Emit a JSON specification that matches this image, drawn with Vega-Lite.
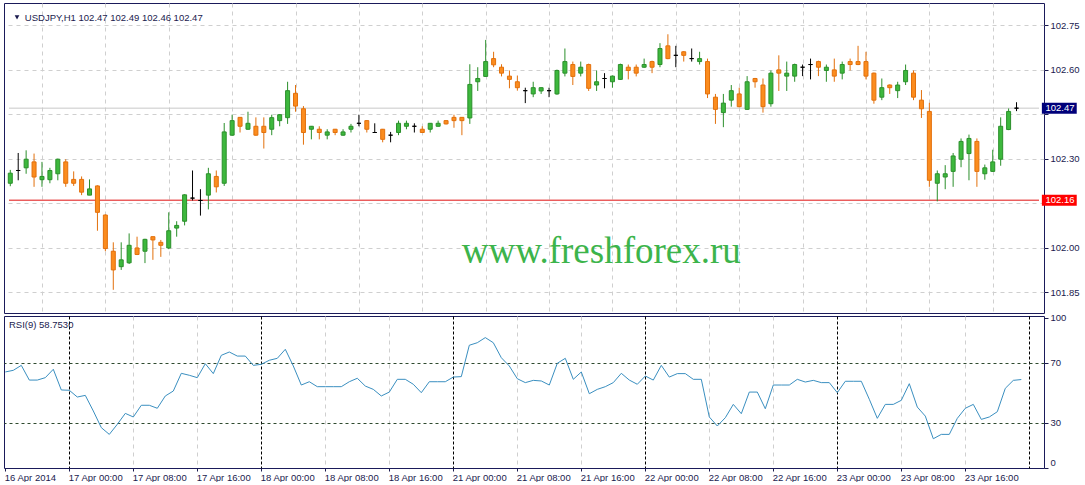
{
  "$schema": "https://vega.github.io/schema/vega-lite/v6.json",
  "background": "white",
  "padding": {"left": 2, "top": 2, "right": 0, "bottom": 0},
  "autosize": {"type": "pad"},
  "spacing": 3,
  "bounds": "flush",
  "config": {
    "view": {"stroke": "#1a1a5a", "strokeWidth": 1},
    "font": "Liberation Sans",
    "axis": {"labelFont": "Liberation Sans", "labelFontSize": 9.5, "labelColor": "#1a1a4e", "domain": false, "tickColor": "#1a1a4e"}
  },
  "datasets": {
    "bars": [
      {"i":0,"o":102.217,"h":102.262,"l":102.207,"c":102.251,"rsi":63.8},
      {"i":1,"o":102.260,"h":102.319,"l":102.227,"c":102.260,"rsi":64.9},
      {"i":2,"o":102.269,"h":102.328,"l":102.249,"c":102.298,"rsi":68.2},
      {"i":3,"o":102.289,"h":102.317,"l":102.205,"c":102.238,"rsi":58.4},
      {"i":4,"o":102.229,"h":102.289,"l":102.205,"c":102.240,"rsi":58.4},
      {"i":5,"o":102.229,"h":102.269,"l":102.217,"c":102.260,"rsi":60.0},
      {"i":6,"o":102.249,"h":102.300,"l":102.227,"c":102.298,"rsi":65.6},
      {"i":7,"o":102.289,"h":102.298,"l":102.205,"c":102.217,"rsi":51.8},
      {"i":8,"o":102.230,"h":102.257,"l":102.208,"c":102.217,"rsi":51.6},
      {"i":9,"o":102.230,"h":102.240,"l":102.177,"c":102.187,"rsi":47.1},
      {"i":10,"o":102.177,"h":102.230,"l":102.177,"c":102.198,"rsi":48.2},
      {"i":11,"o":102.208,"h":102.210,"l":102.057,"c":102.119,"rsi":37.8},
      {"i":12,"o":102.110,"h":102.112,"l":101.988,"c":101.997,"rsi":26.7},
      {"i":13,"o":101.988,"h":102.018,"l":101.858,"c":101.925,"rsi":22.2},
      {"i":14,"o":101.936,"h":102.018,"l":101.925,"c":101.959,"rsi":28.9},
      {"i":15,"o":101.949,"h":102.048,"l":101.945,"c":102.008,"rsi":36.2},
      {"i":16,"o":101.999,"h":102.037,"l":101.975,"c":101.977,"rsi":33.8},
      {"i":17,"o":101.988,"h":102.030,"l":101.948,"c":102.028,"rsi":41.6},
      {"i":18,"o":102.037,"h":102.037,"l":101.959,"c":102.026,"rsi":41.6},
      {"i":19,"o":102.018,"h":102.026,"l":101.969,"c":102.008,"rsi":39.6},
      {"i":20,"o":101.999,"h":102.119,"l":101.995,"c":102.057,"rsi":47.8},
      {"i":21,"o":102.066,"h":102.089,"l":102.037,"c":102.075,"rsi":51.1},
      {"i":22,"o":102.089,"h":102.180,"l":102.075,"c":102.178,"rsi":62.9},
      {"i":23,"o":102.167,"h":102.260,"l":102.159,"c":102.167,"rsi":61.6},
      {"i":24,"o":102.159,"h":102.197,"l":102.108,"c":102.159,"rsi":60.0},
      {"i":25,"o":102.177,"h":102.269,"l":102.129,"c":102.249,"rsi":69.3},
      {"i":26,"o":102.240,"h":102.260,"l":102.186,"c":102.205,"rsi":62.7},
      {"i":27,"o":102.217,"h":102.420,"l":102.208,"c":102.390,"rsi":74.9},
      {"i":28,"o":102.379,"h":102.448,"l":102.377,"c":102.428,"rsi":77.1},
      {"i":29,"o":102.439,"h":102.440,"l":102.388,"c":102.409,"rsi":74.4},
      {"i":30,"o":102.399,"h":102.458,"l":102.397,"c":102.419,"rsi":74.4},
      {"i":31,"o":102.409,"h":102.439,"l":102.377,"c":102.379,"rsi":68.2},
      {"i":32,"o":102.409,"h":102.439,"l":102.334,"c":102.388,"rsi":68.9},
      {"i":33,"o":102.399,"h":102.448,"l":102.379,"c":102.438,"rsi":71.6},
      {"i":34,"o":102.428,"h":102.450,"l":102.409,"c":102.448,"rsi":72.9},
      {"i":35,"o":102.438,"h":102.559,"l":102.417,"c":102.529,"rsi":78.9},
      {"i":36,"o":102.520,"h":102.548,"l":102.458,"c":102.477,"rsi":67.8},
      {"i":37,"o":102.468,"h":102.477,"l":102.347,"c":102.388,"rsi":55.1},
      {"i":38,"o":102.399,"h":102.410,"l":102.365,"c":102.409,"rsi":57.3},
      {"i":39,"o":102.399,"h":102.409,"l":102.365,"c":102.388,"rsi":54.0},
      {"i":40,"o":102.379,"h":102.399,"l":102.365,"c":102.390,"rsi":54.0},
      {"i":41,"o":102.399,"h":102.400,"l":102.379,"c":102.388,"rsi":54.0},
      {"i":42,"o":102.379,"h":102.399,"l":102.377,"c":102.390,"rsi":54.0},
      {"i":43,"o":102.399,"h":102.417,"l":102.388,"c":102.409,"rsi":57.3},
      {"i":44,"o":102.419,"h":102.448,"l":102.409,"c":102.419,"rsi":59.6},
      {"i":45,"o":102.428,"h":102.430,"l":102.388,"c":102.399,"rsi":54.4},
      {"i":46,"o":102.388,"h":102.419,"l":102.388,"c":102.388,"rsi":52.2},
      {"i":47,"o":102.399,"h":102.400,"l":102.355,"c":102.365,"rsi":47.8},
      {"i":48,"o":102.379,"h":102.390,"l":102.355,"c":102.379,"rsi":50.4},
      {"i":49,"o":102.388,"h":102.428,"l":102.379,"c":102.419,"rsi":58.9},
      {"i":50,"o":102.409,"h":102.428,"l":102.399,"c":102.419,"rsi":58.9},
      {"i":51,"o":102.409,"h":102.419,"l":102.388,"c":102.409,"rsi":55.6},
      {"i":52,"o":102.399,"h":102.409,"l":102.388,"c":102.388,"rsi":50.0},
      {"i":53,"o":102.399,"h":102.420,"l":102.388,"c":102.419,"rsi":57.3},
      {"i":54,"o":102.409,"h":102.428,"l":102.408,"c":102.419,"rsi":57.3},
      {"i":55,"o":102.428,"h":102.430,"l":102.415,"c":102.417,"rsi":57.3},
      {"i":56,"o":102.439,"h":102.448,"l":102.404,"c":102.428,"rsi":60.4},
      {"i":57,"o":102.439,"h":102.440,"l":102.379,"c":102.428,"rsi":60.7},
      {"i":58,"o":102.437,"h":102.618,"l":102.417,"c":102.550,"rsi":81.6},
      {"i":59,"o":102.559,"h":102.608,"l":102.528,"c":102.570,"rsi":83.3},
      {"i":60,"o":102.577,"h":102.700,"l":102.575,"c":102.627,"rsi":86.7},
      {"i":61,"o":102.637,"h":102.660,"l":102.608,"c":102.616,"rsi":83.3},
      {"i":62,"o":102.608,"h":102.618,"l":102.577,"c":102.588,"rsi":73.3},
      {"i":63,"o":102.578,"h":102.597,"l":102.537,"c":102.567,"rsi":67.8},
      {"i":64,"o":102.559,"h":102.580,"l":102.529,"c":102.539,"rsi":59.3},
      {"i":65,"o":102.529,"h":102.539,"l":102.487,"c":102.529,"rsi":56.7},
      {"i":66,"o":102.518,"h":102.559,"l":102.507,"c":102.539,"rsi":58.2},
      {"i":67,"o":102.528,"h":102.540,"l":102.518,"c":102.539,"rsi":57.8},
      {"i":68,"o":102.529,"h":102.539,"l":102.507,"c":102.529,"rsi":55.1},
      {"i":69,"o":102.518,"h":102.600,"l":102.515,"c":102.597,"rsi":69.6},
      {"i":70,"o":102.588,"h":102.671,"l":102.577,"c":102.627,"rsi":72.9},
      {"i":71,"o":102.617,"h":102.627,"l":102.548,"c":102.577,"rsi":58.9},
      {"i":72,"o":102.588,"h":102.627,"l":102.577,"c":102.608,"rsi":63.8},
      {"i":73,"o":102.617,"h":102.620,"l":102.528,"c":102.537,"rsi":49.3},
      {"i":74,"o":102.548,"h":102.597,"l":102.528,"c":102.559,"rsi":52.2},
      {"i":75,"o":102.570,"h":102.588,"l":102.537,"c":102.570,"rsi":54.0},
      {"i":76,"o":102.559,"h":102.580,"l":102.539,"c":102.578,"rsi":56.7},
      {"i":77,"o":102.567,"h":102.620,"l":102.565,"c":102.617,"rsi":62.9},
      {"i":78,"o":102.608,"h":102.617,"l":102.567,"c":102.597,"rsi":58.4},
      {"i":79,"o":102.608,"h":102.617,"l":102.577,"c":102.588,"rsi":55.6},
      {"i":80,"o":102.608,"h":102.637,"l":102.606,"c":102.617,"rsi":61.1},
      {"i":81,"o":102.627,"h":102.630,"l":102.588,"c":102.608,"rsi":58.4},
      {"i":82,"o":102.617,"h":102.689,"l":102.608,"c":102.671,"rsi":68.2},
      {"i":83,"o":102.680,"h":102.719,"l":102.635,"c":102.637,"rsi":60.4},
      {"i":84,"o":102.648,"h":102.680,"l":102.608,"c":102.648,"rsi":62.7},
      {"i":85,"o":102.660,"h":102.662,"l":102.627,"c":102.648,"rsi":62.7},
      {"i":86,"o":102.637,"h":102.671,"l":102.627,"c":102.637,"rsi":58.9},
      {"i":87,"o":102.627,"h":102.660,"l":102.617,"c":102.637,"rsi":58.9},
      {"i":88,"o":102.627,"h":102.637,"l":102.504,"c":102.518,"rsi":33.8},
      {"i":89,"o":102.507,"h":102.518,"l":102.417,"c":102.466,"rsi":27.8},
      {"i":90,"o":102.455,"h":102.518,"l":102.406,"c":102.487,"rsi":33.3},
      {"i":91,"o":102.497,"h":102.548,"l":102.475,"c":102.529,"rsi":42.2},
      {"i":92,"o":102.518,"h":102.539,"l":102.473,"c":102.475,"rsi":36.0},
      {"i":93,"o":102.466,"h":102.578,"l":102.464,"c":102.559,"rsi":50.4},
      {"i":94,"o":102.570,"h":102.572,"l":102.539,"c":102.559,"rsi":50.4},
      {"i":95,"o":102.548,"h":102.570,"l":102.455,"c":102.475,"rsi":39.3},
      {"i":96,"o":102.485,"h":102.597,"l":102.475,"c":102.588,"rsi":55.1},
      {"i":97,"o":102.599,"h":102.648,"l":102.528,"c":102.588,"rsi":55.1},
      {"i":98,"o":102.578,"h":102.627,"l":102.528,"c":102.588,"rsi":55.1},
      {"i":99,"o":102.578,"h":102.620,"l":102.559,"c":102.617,"rsi":58.9},
      {"i":100,"o":102.608,"h":102.617,"l":102.578,"c":102.608,"rsi":57.1},
      {"i":101,"o":102.617,"h":102.637,"l":102.567,"c":102.617,"rsi":58.2},
      {"i":102,"o":102.627,"h":102.630,"l":102.578,"c":102.608,"rsi":56.7},
      {"i":103,"o":102.597,"h":102.617,"l":102.559,"c":102.608,"rsi":56.7},
      {"i":104,"o":102.599,"h":102.637,"l":102.559,"c":102.578,"rsi":50.0},
      {"i":105,"o":102.588,"h":102.627,"l":102.567,"c":102.617,"rsi":57.6},
      {"i":106,"o":102.627,"h":102.637,"l":102.597,"c":102.617,"rsi":57.6},
      {"i":107,"o":102.627,"h":102.680,"l":102.615,"c":102.617,"rsi":57.6},
      {"i":108,"o":102.627,"h":102.660,"l":102.567,"c":102.578,"rsi":45.6},
      {"i":109,"o":102.588,"h":102.590,"l":102.485,"c":102.497,"rsi":32.9},
      {"i":110,"o":102.507,"h":102.570,"l":102.497,"c":102.539,"rsi":42.2},
      {"i":111,"o":102.548,"h":102.550,"l":102.518,"c":102.539,"rsi":42.2},
      {"i":112,"o":102.529,"h":102.559,"l":102.504,"c":102.548,"rsi":44.9},
      {"i":113,"o":102.559,"h":102.617,"l":102.548,"c":102.597,"rsi":56.0},
      {"i":114,"o":102.588,"h":102.597,"l":102.497,"c":102.507,"rsi":40.4},
      {"i":115,"o":102.497,"h":102.531,"l":102.437,"c":102.468,"rsi":34.4},
      {"i":116,"o":102.459,"h":102.488,"l":102.205,"c":102.227,"rsi":19.3},
      {"i":117,"o":102.217,"h":102.260,"l":102.156,"c":102.249,"rsi":22.2},
      {"i":118,"o":102.238,"h":102.278,"l":102.197,"c":102.249,"rsi":22.2},
      {"i":119,"o":102.257,"h":102.319,"l":102.205,"c":102.309,"rsi":32.9},
      {"i":120,"o":102.298,"h":102.368,"l":102.271,"c":102.358,"rsi":39.6},
      {"i":121,"o":102.317,"h":102.381,"l":102.227,"c":102.368,"rsi":42.2},
      {"i":122,"o":102.358,"h":102.368,"l":102.205,"c":102.257,"rsi":32.2},
      {"i":123,"o":102.249,"h":102.280,"l":102.229,"c":102.269,"rsi":33.8},
      {"i":124,"o":102.257,"h":102.330,"l":102.255,"c":102.289,"rsi":37.3},
      {"i":125,"o":102.298,"h":102.439,"l":102.276,"c":102.409,"rsi":52.9},
      {"i":126,"o":102.398,"h":102.469,"l":102.396,"c":102.459,"rsi":58.2},
      {"i":127,"o":102.47,"h":102.49,"l":102.46,"c":102.47,"rsi":58.753}
    ],
    "levels": [
      {"price": 102.47, "kind": "bid", "label": "102.47"},
      {"price": 102.16, "kind": "line", "label": "102.16"}
    ]
  },
  "vconcat": [
    {
      "width": 1040,
      "height": 310,
      "layer": [
        {
          "data": {"name": "levels"},
          "mark": {"type": "rule", "strokeWidth": 1},
          "encoding": {
            "x": {"datum": -0.1625, "type": "quantitative", "scale": {"domain": [-0.1625, 129.8375], "nice": false, "zero": false},
              "axis": {"title": null, "values": [4,8,12,16,20,24,28,32,36,40,44,48,52,56,60,64,68,72,76,80,84,88,92,96,100,104,108,112,116,120,124,128],
                "labels": false, "ticks": false, "grid": true, "gridWidth": 1,
                "gridColor": {"condition": {"test": "datum.value % 24 === 8", "value": "#000000"}, "value": "#cfcfcf"},
                "gridDash": {"condition": {"test": "datum.value % 24 === 8", "value": [3, 2]}, "value": [4, 4]}}},
            "x2": {"datum": 129.8375},
            "y": {"field": "price", "type": "quantitative", "scale": {"domain": [101.7967, 102.8075], "nice": false, "zero": false},
              "axis": {"title": null, "orient": "right", "values": [101.85, 102.0, 102.15, 102.3, 102.45, 102.6, 102.75],
                "labelExpr": "abs(datum.value - 102.15) < 0.001 || abs(datum.value - 102.45) < 0.001 ? '' : format(datum.value, '.2f')",
                "grid": true, "gridColor": "#cfcfcf", "gridDash": [4, 4], "tickSize": 4, "labelPadding": 2}},
            "color": {"condition": {"test": "datum.kind === 'bid'", "value": "#c8c8c8"}, "value": "#e01010"}
          }
        },
        {
          "data": {"name": "bars"},
          "mark": {"type": "rule", "strokeWidth": 1, "clip": true},
          "encoding": {
            "x": {"field": "i", "type": "quantitative", "title": null},
            "y": {"field": "l", "type": "quantitative", "title": null},
            "y2": {"field": "h"},
            "color": {"condition": [{"test": "datum.c > datum.o", "value": "#2b8f2b"}, {"test": "datum.c < datum.o", "value": "#e2700c"}], "value": "#000000"}
          }
        },
        {
          "data": {"name": "bars"},
          "mark": {"type": "bar", "size": 4, "strokeWidth": 1, "clip": true},
          "encoding": {
            "x": {"field": "i", "type": "quantitative", "title": null},
            "y": {"field": "o", "type": "quantitative", "title": null},
            "y2": {"field": "c"},
            "fill": {"condition": [{"test": "datum.c > datum.o", "value": "#3db83d"}, {"test": "datum.c < datum.o", "value": "#fb8c1e"}], "value": "#000000"},
            "stroke": {"condition": [{"test": "datum.c > datum.o", "value": "#2b8f2b"}, {"test": "datum.c < datum.o", "value": "#e2700c"}], "value": "#000000"}
          }
        },
        {
          "data": {"name": "levels"},
          "mark": {"type": "bar", "orient": "horizontal", "size": 11},
          "encoding": {
            "x": {"datum": 130.2, "type": "quantitative"},
            "x2": {"datum": 134.6},
            "y": {"field": "price", "type": "quantitative", "title": null},
            "color": {"condition": {"test": "datum.kind === 'bid'", "value": "#00007a"}, "value": "#ff0000"}
          }
        },
        {
          "data": {"name": "levels"},
          "mark": {"type": "text", "align": "left", "baseline": "middle", "fontSize": 9.5, "font": "Liberation Sans", "color": "#ffffff"},
          "encoding": {
            "x": {"datum": 130.65, "type": "quantitative"},
            "y": {"field": "price", "type": "quantitative", "title": null},
            "text": {"field": "label"}
          }
        },
        {
          "data": {"values": [{"t": "USDJPY,H1  102.47 102.49 102.46 102.47"}]},
          "mark": {"type": "text", "align": "left", "baseline": "middle", "fontSize": 9.5, "font": "Liberation Sans", "color": "#1a1a4e"},
          "encoding": {
            "x": {"datum": 1.8375, "type": "quantitative"},
            "y": {"datum": 102.775, "type": "quantitative"},
            "text": {"field": "t"}
          }
        },
        {
          "data": {"values": [{"t": "marker"}]},
          "mark": {"type": "point", "shape": "triangle-down", "filled": true, "size": 22, "color": "#1a1a4e", "opacity": 1},
          "encoding": {
            "x": {"datum": 0.85, "type": "quantitative"},
            "y": {"datum": 102.776, "type": "quantitative"}
          }
        },
        {
          "data": {"values": [{"t": "www.freshforex.ru"}]},
          "mark": {"type": "text", "align": "center", "baseline": "alphabetic", "fontSize": 37, "font": "Liberation Serif", "color": "#3cb44b"},
          "encoding": {
            "x": {"datum": 74.59, "type": "quantitative"},
            "y": {"datum": 101.947, "type": "quantitative"},
            "text": {"field": "t"}
          }
        }
      ]
    },
    {
      "width": 1040,
      "height": 152,
      "layer": [
        {
          "data": {"name": "bars"},
          "mark": {"type": "line", "color": "#3a8fc0", "strokeWidth": 1},
          "encoding": {
            "x": {"field": "i", "type": "quantitative", "scale": {"domain": [-0.1625, 129.8375], "nice": false, "zero": false},
              "axis": {"title": null, "values": [0,4,8,12,16,20,24,28,32,36,40,44,48,52,56,60,64,68,72,76,80,84,88,92,96,100,104,108,112,116,120,124,128],
                "grid": true, "gridWidth": 1,
                "gridColor": {"condition": {"test": "datum.value % 24 === 8", "value": "#000000"}, "value": "#cfcfcf"},
                "gridDash": {"condition": {"test": "datum.value % 24 === 8", "value": [3, 2]}, "value": [4, 4]},
                "gridOpacity": {"condition": {"test": "datum.value === 0", "value": 0}, "value": 1},
                "tickSize": 3,
                "tickOpacity": {"condition": {"test": "datum.value % 8 === 0 && datum.value <= 120", "value": 1}, "value": 0},
                "labelAlign": "left", "labelOffset": -1, "labelPadding": 1, "labelFlush": false, "labelOverlap": false, "labelBaseline": "top",
                "labelExpr": "datum.value % 8 === 0 && datum.value <= 120 ? ['16 Apr 2014','17 Apr 00:00','17 Apr 08:00','17 Apr 16:00','18 Apr 00:00','18 Apr 08:00','18 Apr 16:00','21 Apr 00:00','21 Apr 08:00','21 Apr 16:00','22 Apr 00:00','22 Apr 08:00','22 Apr 16:00','23 Apr 00:00','23 Apr 08:00','23 Apr 16:00'][datum.value / 8] : ''"}},
            "y": {"field": "rsi", "type": "quantitative", "scale": {"domain": [-0.2, 101.1], "nice": false, "zero": false},
              "axis": {"title": null, "orient": "right", "values": [0, 30, 70, 100], "grid": true, "gridWidth": 1,
                "gridColor": {"condition": {"test": "datum.value === 30 || datum.value === 70", "value": "#2f4a2f"}, "value": "#ffffff"},
                "gridOpacity": {"condition": {"test": "datum.value === 30 || datum.value === 70", "value": 1}, "value": 0},
                "gridDash": [3, 3], "tickSize": 4, "labelPadding": 2, "labelFlush": true, "labelFlushOffset": 0}}
          }
        },
        {
          "data": {"values": [{"t": "RSI(9) 58.7530"}]},
          "mark": {"type": "text", "align": "left", "baseline": "middle", "fontSize": 9.5, "font": "Liberation Sans", "color": "#1a1a4e"},
          "encoding": {
            "x": {"datum": 0.4625, "type": "quantitative"},
            "y": {"datum": 95.1, "type": "quantitative"},
            "text": {"field": "t"}
          }
        }
      ]
    }
  ]
}
